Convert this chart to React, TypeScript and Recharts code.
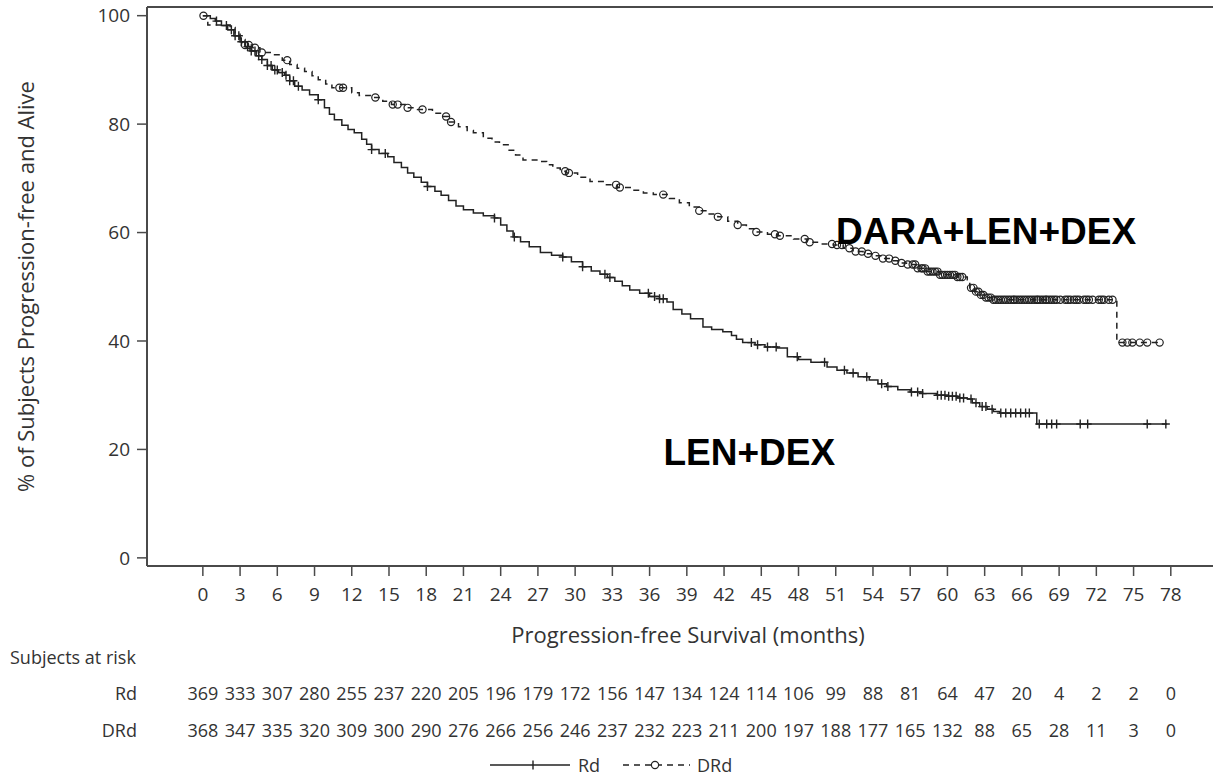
import React from 'react';
import {
  ComposedChart,
  Line,
  Scatter,
  XAxis,
  YAxis,
  ReferenceLine,
  ReferenceDot,
} from 'recharts';

// month ticks and subjects at risk
const monthTicks = [0, 3, 6, 9, 12, 15, 18, 21, 24, 27, 30, 33, 36, 39, 42, 45, 48, 51, 54, 57, 60, 63, 66, 69, 72, 75, 78];
const rdRisk = [369, 333, 307, 280, 255, 237, 220, 205, 196, 179, 172, 156, 147, 134, 124, 114, 106, 99, 88, 81, 64, 47, 20, 4, 2, 2, 0];
const drdRisk = [368, 347, 335, 320, 309, 300, 290, 276, 266, 256, 246, 237, 232, 223, 211, 200, 197, 188, 177, 165, 132, 88, 65, 28, 11, 3, 0];
const pctTicks = [0, 20, 40, 60, 80, 100];

// Rd (LEN+DEX) KM steps
const rdTime = [0, 0.6, 1.0, 1.5, 2.0, 2.5, 3.0, 3.4, 3.8, 4.3, 4.75, 5.2, 5.6, 6.1, 6.6, 7.0, 7.4, 8.0, 8.6, 9.3, 9.8, 10.2, 10.6, 11.2, 11.7, 12.2, 12.8, 13.2, 13.6, 14.2, 14.9, 15.4, 16.0, 16.5, 17.0, 17.6, 18.1, 18.7, 19.2, 19.8, 20.4, 21.0, 21.8, 22.6, 23.5, 24.0, 24.5, 25.0, 25.6, 26.3, 27.2, 28.1, 29.0, 29.7, 30.6, 31.3, 32.0, 32.6, 33.2, 33.8, 34.4, 35.2, 36.0, 36.8, 37.4, 37.9, 38.6, 39.3, 40.3, 41.0, 41.9, 42.6, 43.0, 43.5, 44.5, 45.3, 46.3, 47.1, 48.0, 49.0, 50.3, 51.1, 51.9, 52.8, 53.7, 54.4, 55.1, 56.0, 57.0, 58.0, 59.1, 60.0, 60.8, 61.6, 62.0, 62.6, 63.2, 63.7, 64.2, 67.2, 77.7];
const rdSurv = [100, 99.5, 99.0, 98.2, 97.4, 96.3, 95.2, 94.3, 93.5, 92.6, 91.9, 90.8, 90.0, 89.5, 89.0, 88.0, 87.0, 86.3, 85.4, 84.5, 83.0, 81.8, 80.8, 79.8, 79.0, 78.4, 77.2, 76.3, 75.3, 74.6, 74.0, 72.9, 72.0, 71.0, 70.2, 69.3, 68.5, 67.6, 66.9, 65.9, 64.9, 64.2, 63.6, 63.1, 62.7, 61.4, 60.3, 59.2, 58.3, 57.4, 56.3, 55.8, 55.5, 54.6, 53.7, 52.9, 52.3, 51.7, 51.0, 50.2, 49.4, 48.8, 48.2, 47.8, 47.2, 45.8, 45.0, 44.1, 42.6, 42.1, 41.7, 41.0, 40.3, 39.7, 39.3, 38.9, 38.7, 37.1, 36.6, 36.1, 35.2, 34.6, 34.1, 33.4, 32.8, 32.1, 31.6, 31.0, 30.6, 30.3, 30.0, 29.8, 29.5, 29.3, 28.6, 27.9, 27.4, 27.0, 26.7, 24.7, 24.7];
const rdCensor = [1.1, 1.9, 2.3, 2.6, 2.9, 3.1, 3.6, 3.9, 4.2, 4.5, 4.75, 5.2, 5.5, 5.8, 6.0, 6.4, 6.7, 7.0, 7.3, 7.7, 9.3, 13.6, 14.7, 18.1, 23.5, 25.1, 29.0, 30.6, 32.4, 32.8, 35.9, 36.4, 36.8, 37.1, 44.2, 44.7, 45.5, 46.2, 47.9, 50.1, 51.7, 52.4, 53.5, 54.7, 55.2, 57.1, 57.6, 58.0, 59.2, 59.5, 59.8, 60.1, 60.4, 60.7, 61.0, 61.3, 61.9, 62.3, 62.8, 63.1, 63.6, 64.3, 64.7, 65.1, 65.5, 65.9, 66.3, 66.6, 67.4, 68.0, 68.4, 68.8, 70.7, 71.3, 76.1, 77.6];

// DRd (DARA+LEN+DEX) KM steps
const drdTime = [0, 0.4, 2.2, 2.6, 3.0, 3.4, 4.0, 4.6, 5.6, 6.4, 7.0, 7.6, 8.2, 8.8, 9.3, 9.9, 10.4, 12.0, 12.6, 13.5, 14.5, 15.2, 16.3, 17.3, 18.5, 19.3, 19.8, 20.6, 21.3, 21.8, 22.6, 23.3, 23.9, 24.6, 25.2, 25.8, 27.2, 27.7, 28.2, 28.8, 29.3, 30.2, 31.2, 32.4, 33.4, 34.5, 35.5, 36.3, 37.6, 38.4, 39.2, 40.0, 40.8, 41.5, 42.3, 43.1, 43.8, 44.6, 45.5, 46.3, 47.6, 48.7, 49.8, 50.8, 51.6, 52.4, 53.2, 54.0, 54.7, 55.4, 56.0, 56.7, 57.5, 58.3, 59.4, 60.8, 61.6, 61.8, 62.2, 62.6, 63.1, 63.6, 73.65, 77.1];
const drdSurv = [100, 98.3, 97.8, 96.8, 95.6, 94.6, 94.1, 93.2, 92.8, 91.8, 91.0, 90.3, 89.7, 88.9, 88.2, 87.4, 86.7, 85.8, 85.3, 84.9, 84.2, 83.6, 83.0, 82.7, 82.0, 81.4, 80.4, 79.5, 78.8, 78.4, 77.4, 76.7, 76.2, 75.2, 74.3, 73.4, 73.1, 72.5, 71.9, 71.3, 71.0, 70.2, 69.4, 68.8, 68.3, 67.8, 67.3, 67.0, 66.3, 65.5, 64.7, 64.0, 63.4, 62.9, 62.1, 61.4, 60.7, 60.1, 59.7, 59.4, 58.8, 58.2, 57.9, 57.7, 57.1, 56.5, 56.1, 55.7, 55.2, 54.8, 54.4, 54.1, 53.4, 52.8, 52.2, 51.8, 51.3, 49.8, 49.1, 48.5, 48.0, 47.6, 39.7, 39.7];
const drdCensor = [0.05, 3.4, 3.7, 4.2, 4.75, 6.8, 11.0, 11.3, 13.9, 15.3, 15.7, 16.5, 17.7, 19.6, 20.0, 29.2, 29.5, 33.3, 33.6, 37.1, 40.0, 41.5, 43.1, 44.6, 46.1, 46.5, 48.5, 48.9, 50.7, 51.1, 51.5, 52.1, 52.6, 53.1, 53.6, 54.2, 54.8, 55.3, 55.8, 56.3, 56.8, 57.2, 57.4, 57.6, 57.9, 58.0, 58.2, 58.4, 58.6, 58.8, 59.0, 59.2, 59.4, 59.6, 59.8, 60.0, 60.2, 60.4, 60.6, 60.8, 61.0, 61.2, 61.9, 62.1, 62.3, 62.5, 62.7, 62.9, 63.1, 63.3, 63.5, 63.7, 63.9, 64.1, 64.3, 64.5, 64.7, 64.9, 65.1, 65.3, 65.4, 65.6, 65.8, 66.0, 66.2, 66.4, 66.6, 66.8, 67.0, 67.2, 67.3, 67.5, 67.7, 67.9, 68.0, 68.2, 68.4, 68.6, 68.8, 69.1, 69.5, 69.7, 69.9, 70.2, 70.4, 70.6, 71.0, 71.2, 71.4, 71.7, 72.2, 72.4, 72.6, 73.0, 73.3, 74.1, 74.5, 74.9, 75.5, 76.1, 77.1];

const X_DOMAIN: [number, number] = [-4.5, 81.4];
const Y_DOMAIN: [number, number] = [-1.5, 101.6];

const FONT = '"Open Sans", "DejaVu Sans", sans-serif';
const INK = '#222';
const AXIS = '#4a4a4a';
const TXT = '#333';
const TICK_FS = 19;
const TABLE_FS = 18;
const LABEL_FS = 22;

const toSteps = (times: number[], vals: number[]) => times.map((t, i) => ({ t, s: vals[i] }));

// a censored subject sits on the curve at the last step before it
const onCurve = (times: number[], vals: number[], cens: number[]) =>
  cens.map((t) => {
    let s = vals[0];
    for (let i = 0; i < times.length; i++) if (times[i] <= t) s = vals[i];
    return { t, s };
  });

const rdLine = toSteps(rdTime, rdSurv);
const drdLine = toSteps(drdTime, drdSurv);
const rdMarks = onCurve(rdTime, rdSurv, rdCensor);
const drdMarks = onCurve(drdTime, drdSurv, drdCensor);
const rdRiskRows = monthTicks.map((t, i) => ({ t, n: rdRisk[i] }));
const drdRiskRows = monthTicks.map((t, i) => ({ t, n: drdRisk[i] }));

const PlusMark = (p: any) => (
  <path
    d={`M${p.cx - 4},${p.cy}H${p.cx + 4}M${p.cx},${p.cy - 4.5}V${p.cy + 4.5}`}
    stroke={INK}
    strokeWidth={1.4}
    fill="none"
  />
);

const CircleMark = (p: any) => (
  <circle cx={p.cx} cy={p.cy} r={3.6} stroke={INK} strokeWidth={1.2} fill="none" />
);

const riskTick = (rows: number[], label: string, dy: number, header?: string) => (props: any) => {
  const { x, y, payload } = props;
  const idx = monthTicks.indexOf(payload.value);
  return (
    <g>
      {idx === 0 && header && (
        <text x={10} y={y + 11} fontSize={TABLE_FS} fontFamily={FONT} fill={TXT} dominantBaseline="central">
          {header}
        </text>
      )}
      {idx === 0 && (
        <text x={137} y={y + dy} fontSize={TABLE_FS} fontFamily={FONT} fill={TXT} textAnchor="end" dominantBaseline="central">
          {label}
        </text>
      )}
      <text x={x} y={y + dy} fontSize={TABLE_FS} fontFamily={FONT} fill={TXT} textAnchor="middle" dominantBaseline="central">
        {idx >= 0 ? rows[idx] : ''}
      </text>
    </g>
  );
};

const groupLabel = (text: string) => (props: any) => {
  const vb = props.viewBox;
  return (
    <text
      x={vb.x}
      y={vb.y}
      fontSize={37}
      fontWeight="bold"
      fontFamily='"Liberation Sans", Arial, sans-serif'
      fill="#000"
      dominantBaseline="central"
    >
      {text}
    </text>
  );
};

export default function App() {
  return (
    <div style={{ position: 'absolute', left: 0, top: 0, width: 1213, height: 779, background: '#fff' }}>
      <ComposedChart width={1213} height={779} margin={{ top: 7, right: 0, bottom: 30, left: 0 }}>
        <XAxis
          xAxisId="a"
          dataKey="t"
          type="number"
          domain={X_DOMAIN}
          ticks={monthTicks}
          allowDataOverflow
          height={80}
          stroke={AXIS}
          axisLine={{ stroke: AXIS, strokeWidth: 2 }}
          tickLine={{ stroke: AXIS, strokeWidth: 1.5 }}
          tickSize={10}
          tickMargin={12}
          tick={{ fontSize: TICK_FS, fontFamily: FONT, fill: TXT }}
          interval={0}
          label={(props: any) => (
            <text
              x={688}
              y={props.viewBox.y + 68}
              fontSize={LABEL_FS}
              fontFamily={FONT}
              fill={TXT}
              textAnchor="middle"
              dominantBaseline="central"
            >
              Progression-free Survival (months)
            </text>
          )}
        />
        <XAxis
          xAxisId="b"
          dataKey="t"
          type="number"
          domain={X_DOMAIN}
          ticks={monthTicks}
          allowDataOverflow
          height={66}
          axisLine={false}
          tickLine={false}
          tickSize={0}
          tickMargin={0}
          interval={0}
          tick={riskTick(rdRisk, 'Rd', 47, 'Subjects at risk')}
        />
        <XAxis
          xAxisId="c"
          dataKey="t"
          type="number"
          domain={X_DOMAIN}
          ticks={monthTicks}
          allowDataOverflow
          height={37}
          axisLine={false}
          tickLine={false}
          tickSize={0}
          tickMargin={0}
          interval={0}
          tick={riskTick(drdRisk, 'DRd', 18)}
        />
        <YAxis
          type="number"
          domain={Y_DOMAIN}
          ticks={pctTicks}
          allowDataOverflow
          width={147}
          axisLine={{ stroke: AXIS, strokeWidth: 2 }}
          tickLine={{ stroke: AXIS, strokeWidth: 1.5 }}
          tickSize={10}
          tickMargin={7}
          tick={{ fontSize: TICK_FS, fontFamily: FONT, fill: TXT }}
          interval={0}
          label={(props: any) => {
            const vb = props.viewBox;
            const cy = vb.y + vb.height / 2;
            return (
              <text
                x={25}
                y={cy}
                transform={`rotate(-90, 25, ${cy})`}
                fontSize={LABEL_FS}
                fontFamily={FONT}
                fill={TXT}
                textAnchor="middle"
                dominantBaseline="central"
              >
                % of Subjects Progression-free and Alive
              </text>
            );
          }}
        />
        <ReferenceLine xAxisId="a" y={Y_DOMAIN[1]} stroke={AXIS} strokeWidth={2} ifOverflow="visible" />

        {/* risk table rows, bound to their own bottom axes (not drawn) */}
        <Line xAxisId="b" data={rdRiskRows} dataKey="n" stroke="none" dot={false} activeDot={false} isAnimationActive={false} />
        <Line xAxisId="c" data={drdRiskRows} dataKey="n" stroke="none" dot={false} activeDot={false} isAnimationActive={false} />

        <Line
          xAxisId="a"
          data={rdLine}
          dataKey="s"
          type="stepAfter"
          stroke={INK}
          strokeWidth={1.5}
          dot={false}
          activeDot={false}
          isAnimationActive={false}
        />
        <Line
          xAxisId="a"
          data={drdLine}
          dataKey="s"
          type="stepAfter"
          stroke={INK}
          strokeWidth={1.5}
          strokeDasharray="6 5"
          dot={false}
          activeDot={false}
          isAnimationActive={false}
        />
        <Scatter xAxisId="a" data={rdMarks} dataKey="s" shape={PlusMark} isAnimationActive={false} />
        <Scatter xAxisId="a" data={drdMarks} dataKey="s" shape={CircleMark} isAnimationActive={false} />

        <ReferenceDot xAxisId="a" x={51.1} y={60.1} r={1} fill="none" stroke="none" label={groupLabel('DARA+LEN+DEX')} />
        <ReferenceDot xAxisId="a" x={37.2} y={19.2} r={1} fill="none" stroke="none" label={groupLabel('LEN+DEX')} />
      </ComposedChart>

      <svg width={1213} height={30} style={{ position: 'absolute', left: 0, top: 750 }}>
        <path d="M490,15H570" stroke={INK} strokeWidth={1.5} />
        <path d="M533,10.5V19.5" stroke={INK} strokeWidth={1.4} />
        <text x={578} y={15} fontSize={TABLE_FS} fontFamily={FONT} fill={TXT} dominantBaseline="central">Rd</text>
        <path d="M623,15H690" stroke={INK} strokeWidth={1.5} strokeDasharray="6 5" />
        <circle cx={655} cy={15} r={3.6} stroke={INK} strokeWidth={1.2} fill="#fff" />
        <text x={697} y={15} fontSize={TABLE_FS} fontFamily={FONT} fill={TXT} dominantBaseline="central">DRd</text>
      </svg>
    </div>
  );
}
